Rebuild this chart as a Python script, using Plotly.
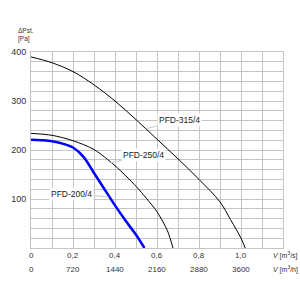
import plotly.graph_objects as go

# ---- data ----
flow_315 = [0, 0.1, 0.2, 0.3, 0.4, 0.5, 0.6, 0.7, 0.8, 0.9, 0.95, 1.0, 1.02]
p_315 = [390, 378, 360, 333, 300, 262, 222, 182, 140, 94, 58, 20, 0]

flow_250 = [0, 0.1, 0.2, 0.3, 0.4, 0.5, 0.55, 0.6, 0.65, 0.676]
p_250 = [234, 230, 219, 201, 168, 126, 101, 74, 35, 0]

flow_200 = [0, 0.05, 0.1, 0.15, 0.2, 0.25, 0.3, 0.35, 0.4, 0.45, 0.5, 0.54]
p_200 = [221, 220, 218, 213, 205, 186, 153, 120, 87, 56, 27, 0]

series_names = ["PFD-315/4", "PFD-250/4", "PFD-200/4"]

x_tick_vals = [0, 0.2, 0.4, 0.6, 0.8, 1.0]
x_tick_ms = ["0", "0,2", "0,4", "0,6", "0,8", "1,0"]
x_tick_mh = ["0", "720", "1440", "2160", "2880", "3600"]
y_tick_vals = [100, 200, 300, 400]

# label anchor (text centre) and the curve point its leader touches
label_pos = [(0.705, 261), (0.538, 190), (0.195, 111)]
leader_pts = [(0.545, 243), (0.381, 174), (0.37, 104)]

GRID = "#c4c4c4"
TXT = "#333333"
FONT = "Liberation Sans, Arial, sans-serif"

fig = go.Figure()
fig.add_trace(go.Scatter(x=flow_315, y=p_315, mode="lines",
                         line=dict(color="#000000", width=1, shape="spline", smoothing=1),
                         hoverinfo="skip"))
fig.add_trace(go.Scatter(x=flow_250, y=p_250, mode="lines",
                         line=dict(color="#000000", width=1, shape="spline", smoothing=0.8),
                         hoverinfo="skip"))
fig.add_trace(go.Scatter(x=flow_200, y=p_200, mode="lines",
                         line=dict(color="#0000ff", width=2.5, shape="spline", smoothing=1),
                         hoverinfo="skip"))

fig.update_layout(
    width=300, height=300,
    margin=dict(l=31, r=17, t=52, b=52),
    paper_bgcolor="white", plot_bgcolor="white",
    showlegend=False,
    font=dict(family=FONT, color=TXT),
    xaxis=dict(range=[0, 1.2], dtick=0.1, tick0=0, showgrid=True, gridcolor=GRID, gridwidth=1,
               showticklabels=False, showline=True, linecolor=GRID, mirror=True,
               zeroline=False, ticks="", fixedrange=True),
    yaxis=dict(range=[0, 400], tickvals=y_tick_vals, showgrid=True,
               gridcolor=GRID, gridwidth=1, showline=True, linecolor=GRID, mirror=True,
               minor=dict(dtick=20, tick0=0, showgrid=True, gridcolor=GRID, gridwidth=1, ticks=""),
               zeroline=False, ticks="", tickfont=dict(size=9, color=TXT),
               ticklabelstandoff=2, fixedrange=True),
)

def py(p):
    return (248 - p) / 196.0

anns = []
for xv, t1, t2 in zip(x_tick_vals, x_tick_ms, x_tick_mh):
    anns.append(dict(x=xv, y=py(255), xref="x", yref="paper", text=t1, showarrow=False,
                     xanchor="center", yanchor="middle", font=dict(size=8, color=TXT)))
    anns.append(dict(x=xv, y=py(269), xref="x", yref="paper", text=t2, showarrow=False,
                     xanchor="center", yanchor="middle", font=dict(size=8, color=TXT)))

anns.append(dict(x=(271 - 31) / 252.0, y=py(255), xref="paper", yref="paper",
                 text="<i>V</i> [m<sup>3</sup>/s]", showarrow=False, xanchor="left",
                 yanchor="middle", font=dict(size=7, color=TXT)))
anns.append(dict(x=(271 - 31) / 252.0, y=py(269), xref="paper", yref="paper",
                 text="<i>V</i> [m<sup>3</sup>/h]", showarrow=False, xanchor="left",
                 yanchor="middle", font=dict(size=7, color=TXT)))

anns.append(dict(x=(16 - 31) / 252.0, y=py(31), xref="paper", yref="paper",
                 text="ΔPst.", showarrow=False, xanchor="left", yanchor="middle",
                 font=dict(size=6.5, color=TXT)))
anns.append(dict(x=(16 - 31) / 252.0, y=py(39), xref="paper", yref="paper",
                 text="[Pa]", showarrow=False, xanchor="left", yanchor="middle",
                 font=dict(size=6.5, color=TXT)))

for name, (lx, ly), (px_, pyv) in zip(series_names, label_pos, leader_pts):
    anns.append(dict(x=px_, y=pyv, xref="x", yref="y", ax=lx, ay=ly, axref="x", ayref="y",
                     text=name, showarrow=True, arrowhead=0, arrowwidth=1, arrowcolor="#c8c8c8",
                     bgcolor="white", borderpad=1, font=dict(size=8.5, color="#222222")))

fig.update_layout(annotations=anns)
fig.write_html("out.html")
